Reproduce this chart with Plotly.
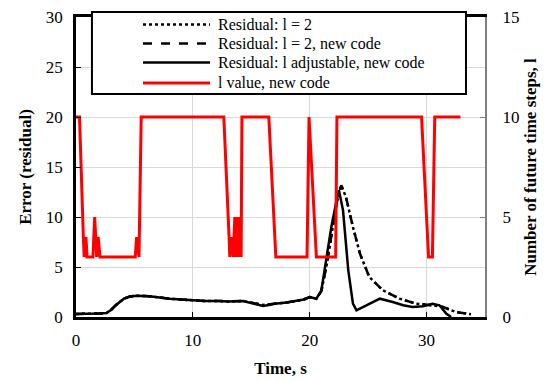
import plotly.graph_objects as go

# ---- data ----
t_lvalue = [0, 0.3, 0.63, 0.7, 0.85, 0.95, 1.45, 1.6, 1.77, 1.9, 2.05, 5.07, 5.19, 5.39, 5.58,
            12.65, 13.1, 13.16, 13.33, 13.45, 13.59, 13.68, 13.82, 13.9, 14.0, 14.13, 14.2,
            16.5, 17.1, 19.77, 19.94, 20.57, 22.22, 22.33, 29.57, 30.17, 30.5, 30.7, 32.9]
l_value = [10, 10, 4, 3, 4, 3, 3, 5, 3, 4, 3, 3, 4, 3, 10,
           10, 4, 3, 4, 3, 5, 3, 5, 3, 5, 3, 10,
           10, 3, 3, 10, 3, 3, 10, 10, 3, 3, 10, 10]

t_adj = [0, 1, 2, 2.6, 3.0, 3.4, 3.8, 4.1, 4.6, 5.2, 6.3, 7, 8.0, 9, 10.0, 11, 12.3, 13, 14.3,
         15.1, 15.6, 16.0, 16.5, 17.0, 18, 18.9, 19.5, 20.0, 20.57, 21.0, 21.4, 21.85, 22.3,
         22.5, 22.85, 23.3, 23.7, 24.0, 24.85, 26.0, 27.1, 28.0, 28.8, 29.7, 30.5, 31.1, 31.7, 32.1]
resid_adj = [0.3, 0.3, 0.35, 0.4, 0.7, 1.17, 1.55, 1.83, 2.05, 2.13, 2.07, 1.95, 1.83, 1.75, 1.67,
             1.6, 1.6, 1.55, 1.6, 1.4, 1.2, 1.1, 1.2, 1.33, 1.45, 1.6, 1.75, 2.0, 1.83, 2.67, 5.67,
             9.0, 11.67, 12.67, 10.67, 4.67, 1.33, 0.67, 1.17, 1.83, 1.5, 1.17, 1.0, 1.07, 1.33,
             1.17, 0.33, 0.0]

t_l2 = [0, 1, 2, 2.6, 3.0, 3.4, 3.8, 4.1, 4.6, 5.2, 6.3, 7, 8.0, 9, 10.0, 11, 12.3, 13, 14.3,
        15.1, 15.6, 16.0, 16.5, 17.0, 18, 18.9, 19.5, 20.0, 20.57, 21.0, 21.5, 22.0, 22.4,
        22.7, 23.1, 23.7, 24.3, 25.1, 26.26, 27.7, 29.1, 30.5, 31.4, 32.5, 33.8]
resid_l2 = [0.3, 0.3, 0.35, 0.4, 0.7, 1.17, 1.55, 1.83, 2.05, 2.13, 2.07, 1.95, 1.83, 1.75, 1.67,
            1.6, 1.6, 1.55, 1.6, 1.45, 1.3, 1.2, 1.25, 1.35, 1.45, 1.6, 1.75, 2.0, 1.83, 2.6,
            5.5, 9.2, 12.0, 13.17, 12.0, 9.0, 6.33, 4.0, 2.67, 1.83, 1.33, 1.17, 1.0, 0.5, 0.27]
resid_l2_new = [0.3, 0.3, 0.35, 0.4, 0.7, 1.17, 1.55, 1.83, 2.05, 2.13, 2.07, 1.95, 1.83, 1.75, 1.67,
                1.6, 1.6, 1.55, 1.6, 1.45, 1.3, 1.2, 1.25, 1.35, 1.45, 1.6, 1.75, 2.0, 1.83, 2.6,
                5.5, 9.2, 12.0, 13.17, 12.0, 9.0, 6.33, 4.0, 2.67, 1.83, 1.33, 1.17, 1.0, 0.5, 0.27]

series_names = ["Residual: l = 2", "Residual: l = 2, new code",
                "Residual: l adjustable, new code", "l value, new code"]

x_ticks = [0, 10, 20, 30]
y_ticks = [0, 5, 10, 15, 20, 25, 30]
y2_ticks = [0, 5, 10, 15]

FONT = "Liberation Serif"
styles = [dict(color="black", width=2.5, dash="dot"),
          dict(color="black", width=2.5, dash="dash"),
          dict(color="black", width=2.5),
          dict(color="#ff0000", width=3)]

fig = go.Figure()
fig.add_trace(go.Scatter(x=t_l2, y=resid_l2, mode="lines", name=series_names[0], line=styles[0]))
fig.add_trace(go.Scatter(x=t_l2, y=resid_l2_new, mode="lines", name=series_names[1], line=styles[1]))
fig.add_trace(go.Scatter(x=t_adj, y=resid_adj, mode="lines", name=series_names[2], line=styles[2]))
fig.add_trace(go.Scatter(x=t_lvalue, y=l_value, mode="lines", name=series_names[3],
                         yaxis="y2", line=styles[3]))

# legend drawn as box + sample lines + text (paper coordinates)
shapes = [dict(type="rect", xref="paper", yref="paper", x0=0.039, x1=0.9535,
               y0=0.743, y1=1.0167, line=dict(color="black", width=2),
               fillcolor="white", layer="above")]
annotations = []
row_y = [0.975, 0.9115, 0.848, 0.78]
for name, st, yy in zip(series_names, styles, row_y):
    shapes.append(dict(type="line", xref="paper", yref="paper", x0=0.1638, x1=0.3276,
                       y0=yy, y1=yy, layer="above",
                       line=dict(color=st["color"], width=st["width"],
                                 dash=st.get("dash", "solid"))))
    annotations.append(dict(xref="paper", yref="paper", x=0.342, y=yy, text=name,
                            showarrow=False, xanchor="left", yanchor="middle",
                            font=dict(family=FONT, size=16, color="black")))

# the page body adds an 8px offset: figure is 8px smaller and margins shifted
fig.update_layout(
    width=545, height=373,
    margin=dict(l=68, r=68, t=9, b=64, autoexpand=False),
    paper_bgcolor="white", plot_bgcolor="white",
    font=dict(family=FONT, size=17, color="black"),
    showlegend=False,
    xaxis=dict(range=[0, 35], tickvals=x_ticks, showgrid=True, gridcolor="#d9d9d9",
               gridwidth=1, showline=True, linecolor="black", linewidth=2.5, mirror=True,
               ticks="inside", ticklen=5, tickcolor="black", zeroline=False,
               ticklabelstandoff=6, automargin=False, ticklabeloverflow="allow",
               title=dict(text="<b>Time, s</b>", font=dict(size=17), standoff=13)),
    yaxis=dict(range=[0, 30], tickvals=y_ticks, showgrid=True, gridcolor="#d9d9d9",
               gridwidth=1, showline=True, linecolor="black", linewidth=2.5,
               ticks="inside", ticklen=5, tickcolor="black", zeroline=False,
               ticklabelstandoff=7, automargin=False, ticklabeloverflow="allow",
               title=dict(text="<b>Error (residual)</b>", font=dict(size=17), standoff=10)),
    yaxis2=dict(range=[0, 15], tickvals=y2_ticks, overlaying="y", side="right",
                showgrid=False, showline=True, linecolor="#808080", linewidth=2,
                ticks="inside", ticklen=5, tickcolor="#808080", zeroline=False,
                ticklabelstandoff=12, automargin=False, ticklabeloverflow="allow",
                title=dict(text="<b>Number of future time steps, l</b>", font=dict(size=17),
                           standoff=6)),
    shapes=shapes,
    annotations=annotations,
)

fig.write_html("out.html")
